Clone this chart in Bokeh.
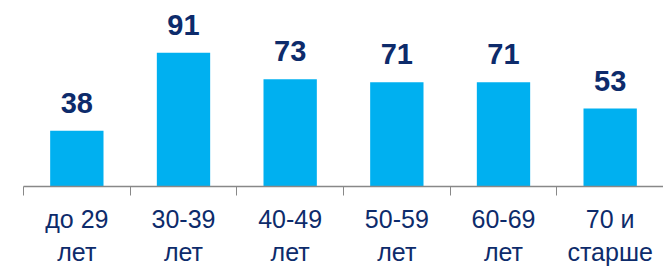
from bokeh.plotting import figure
from bokeh.models import ColumnDataSource, LabelSet, FixedTicker, Range1d
from bokeh.core.properties import value
from bokeh.embed import file_html
from bokeh.resources import INLINE

categories = ["до 29\nлет", "30-39\nлет", "40-49\nлет", "50-59\nлет", "60-69\nлет", "70 и\nстарше"]
values = [38, 91, 73, 71, 71, 53]

xs = [i + 0.5 for i in range(len(categories))]
src = ColumnDataSource(dict(x=xs, top=values, lab=[str(v) for v in values]))

p = figure(frame_width=640, frame_height=179, output_backend="svg", toolbar_location=None,
           x_range=Range1d(0, len(categories)), y_range=Range1d(0, 121.8),
           min_border_left=23, min_border_right=0, min_border_top=7, min_border_bottom=0)
p.outline_line_color = None
p.xgrid.visible = False
p.ygrid.visible = False
p.yaxis.visible = False
p.background_fill_color = "white"
p.border_fill_color = "white"

p.vbar(x="x", top="top", width=0.5, bottom=0, source=src, color="#00B0F0", line_color=None)

labels = LabelSet(x="x", y="top", text="lab", source=src, text_align="center", text_baseline="alphabetic",
                  y_offset=18, text_font=value("Liberation Sans"), text_font_style="bold",
                  text_font_size=value("29px"), text_color="#0D2B6B")
p.add_layout(labels)

ax = p.xaxis[0]
ax.ticker = FixedTicker(ticks=xs, minor_ticks=list(range(len(categories) + 1)))
ax.major_label_overrides = {x: c for x, c in zip(xs, categories)}
ax.major_tick_line_color = None
ax.major_tick_out = 0
ax.major_tick_in = 0
ax.minor_tick_in = 0
ax.minor_tick_out = 9
ax.minor_tick_line_color = "#888888"
ax.axis_line_color = "#888888"
ax.axis_line_width = 1.5
ax.major_label_text_font = "Liberation Sans"
ax.major_label_text_font_size = "25px"
ax.major_label_text_color = "#0D2B6B"
ax.major_label_standoff = 9

open("out.html", "w").write(file_html(p, INLINE))
